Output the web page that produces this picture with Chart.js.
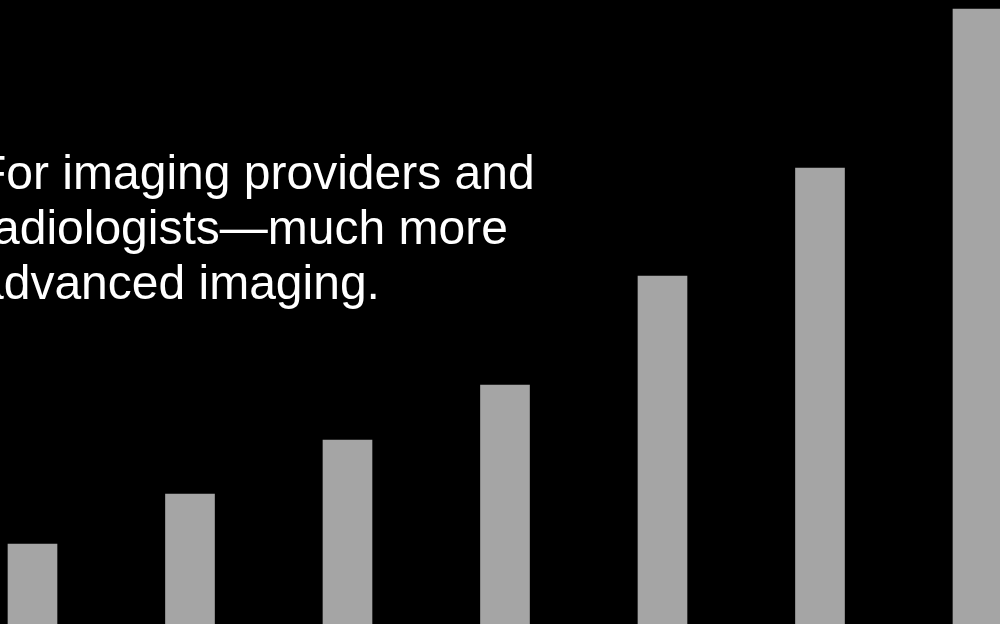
<!DOCTYPE html>
<html>
<head>
<meta charset="utf-8">
<script src="https://cdn.jsdelivr.net/npm/chart.js@4/dist/chart.umd.min.js"></script>
<style>
  html, body { margin:0; padding:0; background:#000; overflow:hidden; }
  #wrap { position:relative; width:1000px; height:624px; }
  #caption {
    position:absolute; left:-23px; top:145px;
    color:#fff; font-family:"Liberation Sans", Arial, sans-serif;
    font-size:48px; line-height:55px; white-space:nowrap;
  }
</style>
</head>
<body>
<div id="wrap">
  <canvas id="c" width="1000" height="624"></canvas>
  <div id="caption">For imaging providers and<br>radiologists—much more<br>advanced imaging.</div>
</div>
<script>
// bar slots and heights
const slots = [0, 1, 2, 3, 4, 5, 6];
const values = [80, 130, 184, 239, 348, 456, 615];
const yMax = 624;

new Chart(document.getElementById('c').getContext('2d'), {
  type: 'bar',
  data: {
    datasets: [{
      data: slots.map((s, i) => ({ x: s, y: values[i] })),
      backgroundColor: '#a5a5a5',
      borderWidth: 0,
      barThickness: 49
    }]
  },
  options: {
    responsive: false, animation: false,
    layout: { padding: 0 },
    plugins: { legend: { display: false }, tooltip: { enabled: false } },
    scales: {
      x: { type: 'linear', display: false, offset: false, min: -0.2063, max: 6.1429 },
      y: { display: false, min: 0, max: yMax }
    }
  }
});
</script>
</body>
</html>
